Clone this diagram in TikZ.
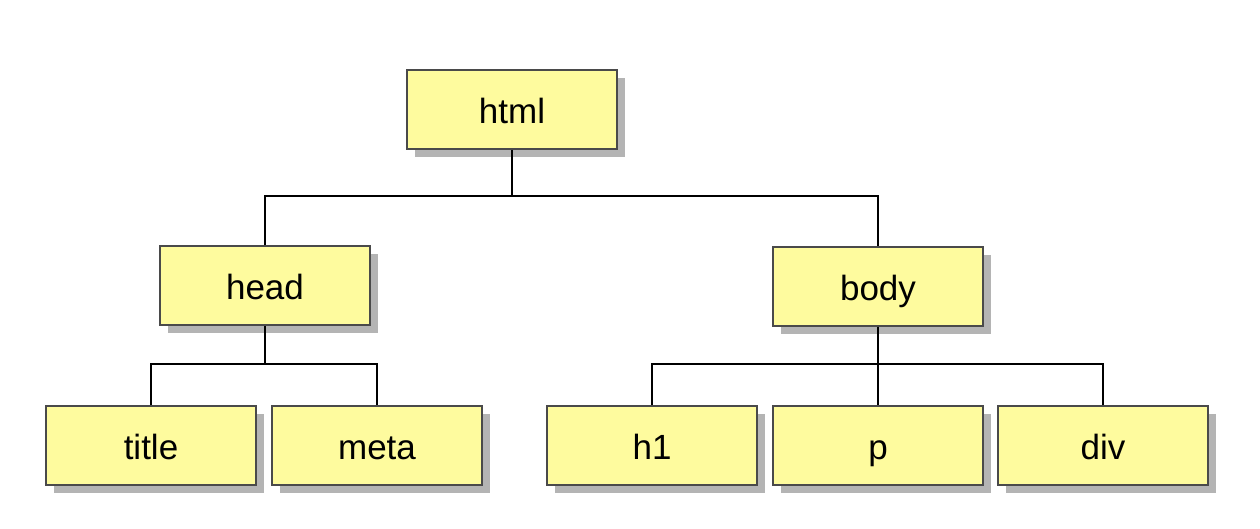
\documentclass[tikz,border=0pt]{standalone}
\usepackage{fontspec}
\setmainfont{Liberation Sans}
\usetikzlibrary{shadows}
\definecolor{boxfill}{HTML}{FEFB9E}
\definecolor{boxline}{HTML}{4A4A4A}
\definecolor{shadowgray}{HTML}{B4B4B4}
\begin{document}
\begin{tikzpicture}[x=1pt,y=-1pt,
  tag/.style={draw=boxline, line width=1.8pt, fill=boxfill,
    minimum width=210pt, minimum height=79pt, inner sep=0pt,
    text height=28pt, text depth=0pt,
    font=\fontsize{35}{40}\selectfont,
    drop shadow={shadow xshift=8pt, shadow yshift=-8pt, fill=shadowgray, opacity=1}},
  link/.style={draw=black, line width=2.2pt}]
\useasboundingbox (0,0) rectangle (1260,528);
\node[tag] (html) at (512,109.5) {html};
\node[tag] (head) at (265,285.5) {head};
\node[tag] (body) at (878,286.5) {body};
\node[tag] (title) at (151,445.5) {title};
\node[tag] (meta) at (377,445.5) {meta};
\node[tag] (h1) at (652,445.5) {h1};
\node[tag] (p) at (878,445.5) {p};
\node[tag] (div) at (1103,445.5) {div};
% html branches
\coordinate (hb) at (512,196);
\draw[link] (html.south) -- (hb);
\draw[link] (head.north) |- (hb) -| (body.north);
% head branches
\coordinate (hd) at (265,364);
\draw[link] (head.south) -- (hd);
\draw[link] (title.north) |- (hd) -| (meta.north);
% body branches
\coordinate (bd) at (878,364);
\draw[link] (body.south) -- (p.north);
\draw[link] (h1.north) |- (bd) -| (div.north);
\end{tikzpicture}
\end{document}
